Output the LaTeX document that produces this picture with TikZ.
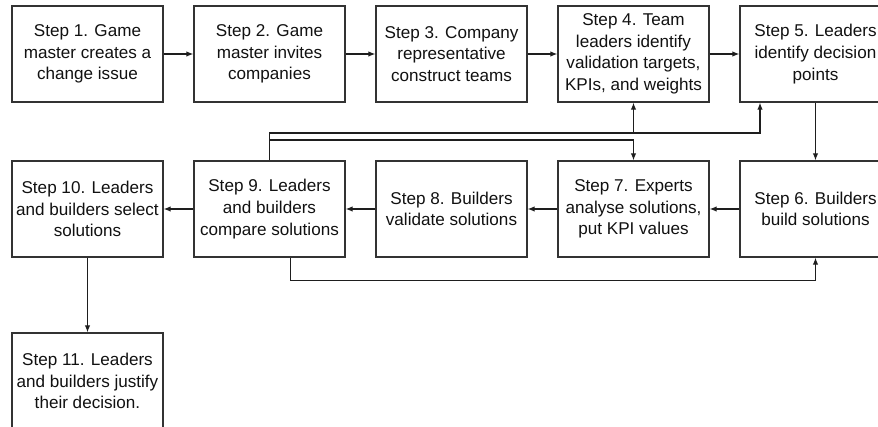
\documentclass[tikz,border=0pt]{standalone}
\usepackage{fontspec}
\setmainfont{Liberation Sans}
\usetikzlibrary{arrows.meta}
\definecolor{edge}{HTML}{333333}
\definecolor{conn}{HTML}{1E1E1E}
\definecolor{txt}{HTML}{111111}
\tikzset{
  stepbox/.style={draw=edge, line width=1.3pt, fill=white, minimum width=151pt, minimum height=96pt,
    inner sep=0pt, align=center, text=txt, font=\fontsize{17.1pt}{21.6pt}\selectfont},
  arr/.style={draw=conn, line width=1.2pt, -{Latex[length=7pt,width=5.5pt]}}
}
\begin{document}
\begin{tikzpicture}[x=1pt,y=-1pt]
\useasboundingbox (0,0) rectangle (878,427);
\clip (0,0) rectangle (878,427);
\node[stepbox] (b1) at (87.5,54) {Step 1. Game\\master creates a\\change issue};
\node[stepbox] (b2) at (269.5,54) {Step 2. Game\\master invites\\companies};
\node[stepbox] (b3) at (451.5,54) {Step 3. Company\\representative\\construct teams};
\node[stepbox] (b4) at (633.5,54) {Step 4. Team\\leaders identify\\validation targets,\\KPIs, and weights};
\node[stepbox] (b5) at (815.5,54) {Step 5. Leaders\\identify decision\\points};
\node[stepbox] (b10) at (87.5,209) {Step 10. Leaders\\and builders select\\solutions};
\node[stepbox] (b9) at (269.5,209) {Step 9. Leaders\\and builders\\compare solutions};
\node[stepbox] (b8) at (451.5,209) {Step 8. Builders\\validate solutions};
\node[stepbox] (b7) at (633.5,209) {Step 7. Experts\\analyse solutions,\\put KPI values};
\node[stepbox] (b6) at (815.5,209) {Step 6. Builders\\build solutions};
\node[stepbox] (b11) at (87.5,381) {Step 11. Leaders\\and builders justify\\their decision.};
\coordinate (ya) at (0,133);
\coordinate (yb) at (0,140);
\draw[arr] (b1) -- (b2);
\draw[arr] (b2) -- (b3);
\draw[arr] (b3) -- (b4);
\draw[arr] (b4) -- (b5);
\draw[arr] (b5) -- (b6);
\draw[arr] (b6) -- (b7);
\draw[arr] (b7) -- (b8);
\draw[arr] (b8) -- (b9);
\draw[arr] (b9) -- (b10);
\draw[arr] (b10) -- (b11);
\draw[arr] (b9.north) -- (b9.north |- ya) -| ([xshift=-55.5pt]b5.south);
\draw[arr] (b9.north |- ya) -| (b4.south);
\draw[arr] (b9.north |- yb) -| (b7.north);
\draw[arr] ([xshift=21pt]b9.south) -- ++(0,23) -| (b6.south);
\end{tikzpicture}
\end{document}
